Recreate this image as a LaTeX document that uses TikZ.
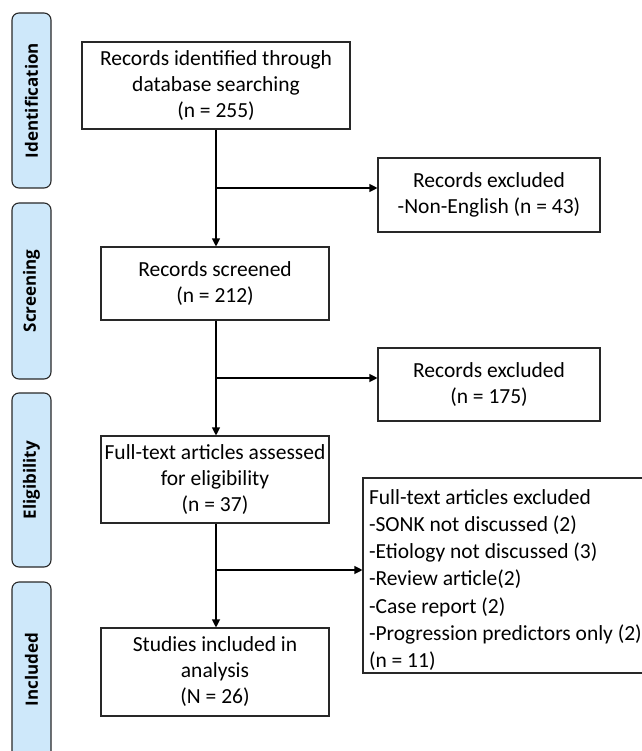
\documentclass[tikz,border=0pt]{standalone}
\usepackage{fontspec}
\setmainfont{Carlito}
\newfontfamily\sidefont{Open Sans}
\usetikzlibrary{arrows.meta}
\definecolor{barblue}{RGB}{206,232,250}
\definecolor{edge}{RGB}{40,40,40}
\tikzset{
  x=1pt, y=-1pt,
  box/.style={draw=edge, line width=1.1pt, fill=white, align=center, inner sep=2pt,
              font=\fontsize{21.5}{26}\selectfont},
  ltext/.style={align=flush left, inner sep=2pt,
              font=\fontsize{21.5}{27.3}\selectfont},
  bar/.style={draw=edge, line width=1.1pt, fill=barblue, rounded corners=7pt},
  barlabel/.style={rotate=90, font=\sidefont\bfseries\fontsize{17}{20}\selectfont},
  conn/.style={line width=1.1pt, draw=black},
  arr/.style={conn, -{Triangle[length=8pt,width=8pt]}}
}
\begin{document}
\begin{tikzpicture}
\useasboundingbox (0,0) rectangle (641,751);
% side bars
\draw[bar] (12,13) rectangle (51,188);
\draw[bar] (12,203) rectangle (51,379);
\draw[bar] (12,393) rectangle (51,567);
\draw[bar] (12,582) rectangle (51,770);
\node[barlabel] (lid) at (31.5,100.5) {Identification};
\node[barlabel] (lsc) at (31.5,291) {Screening};
\node[barlabel] (lel) at (31.5,480) {Eligibility};
\node[barlabel] (lin) at (31.5,669.5) {Included};
% boxes
\node[box, minimum width=268pt, minimum height=87pt] (b1) at (216,85.5)
  {Records identified through\\database searching\\(n = 255)};
\node[box, minimum width=222pt, minimum height=74pt] (e1) at (489,195)
  {Records excluded\\-Non-English (n = 43)};
\node[box, minimum width=228pt, minimum height=73pt] (b2) at (215,283.5)
  {Records screened\\(n = 212)};
\node[box, minimum width=222pt, minimum height=73pt] (e2) at (489,384.5)
  {Records excluded\\(n = 175)};
\node[box, minimum width=228pt, minimum height=87pt] (b3) at (215,479.5)
  {Full-text articles assessed\\for eligibility\\(n = 37)};
\node[box, minimum width=282pt, minimum height=195pt] (e3) at (504,575.5) {};
\node[ltext, text width=274pt] (e3t) at (506,580)
  {Full-text articles excluded\\-SONK not discussed (2)\\-Etiology not discussed (3)\\-Review article(2)\\-Case report (2)\\-Progression predictors only (2)\\(n = 11)};
\node[box, minimum width=228pt, minimum height=88pt] (b4) at (215,672)
  {Studies included in\\analysis\\(N = 26)};
% junctions
\coordinate (j1) at (216,188);
\coordinate (j2) at (216,378);
\coordinate (j3) at (216,570);
% connectors
\draw[arr] (b1.south -| j1) -- (b2.north -| j1);
\draw[arr] (j1) -- (j1 -| e1.west);
\draw[arr] (b2.south -| j2) -- (b3.north -| j2);
\draw[arr] (j2) -- (j2 -| e2.west);
\draw[arr] (b3.south -| j3) -- (b4.north -| j3);
\draw[arr] (j3) -- (j3 -| e3.west);
\end{tikzpicture}
\end{document}
